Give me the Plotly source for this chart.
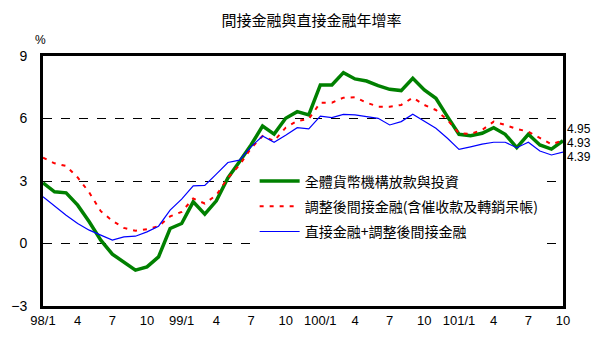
import plotly.graph_objects as go

months = []
for yr in [98, 99, 100, 101]:
    for m in range(1, 13):
        if yr == 101 and m > 10:
            break
        months.append(f"{yr}/{m}")

green = [2.91, 2.48, 2.43, 1.84, 1.04, 0.16, -0.51, -0.88, -1.28, -1.12, -0.64,
         0.72, 0.96, 2.0, 1.41, 2.05, 3.15, 3.92, 4.73, 5.64, 5.25, 6.01, 6.33,
         6.17, 7.61, 7.61, 8.2, 7.9, 7.8, 7.58, 7.4, 7.34, 7.93, 7.37,
         6.97, 6.09, 5.24, 5.17, 5.29, 5.56, 5.24, 4.6, 5.24, 4.73, 4.53, 4.93]
red = [4.12, 3.85, 3.72, 3.17, 2.45, 1.55, 1.09, 0.75, 0.61, 0.69, 0.83,
       1.3, 1.52, 2.16, 1.92, 2.32, 3.15, 3.76, 4.57, 5.16, 4.92, 5.56, 5.88,
       5.98, 6.76, 6.76, 7.0, 7.02, 6.76, 6.57, 6.57, 6.65, 7.0, 6.65,
       6.41, 5.93, 5.29, 5.26, 5.45, 5.85, 5.69, 5.5, 5.37, 5.08, 4.76, 4.95]
blue = [2.24, 1.79, 1.36, 0.96, 0.64, 0.4, 0.16, 0.32, 0.35, 0.56, 0.83,
        1.6, 2.13, 2.77, 2.79, 3.33, 3.89, 4.0, 4.64, 5.16, 4.86, 5.2, 5.56,
        5.5, 6.11, 6.04, 6.2, 6.17, 6.09, 6.01, 5.69, 5.85, 6.2, 5.87,
        5.53, 5.05, 4.52, 4.64, 4.77, 4.86, 4.86, 4.6, 4.86, 4.44, 4.25, 4.39]

names = ["全體貨幣機構放款與投資",
         "調整後間接金融(含催收款及轉銷呆帳)",
         "直接金融+調整後間接金融"]
end_labels = ["4.93", "4.95", "4.39"]
yticks = [-3, 0, 3, 6, 9]

x = list(range(len(months)))
tickvals = [i for i in x if (i % 3) == 0]
ticktext = [months[i] if months[i].endswith("/1") else months[i].split("/")[1] for i in tickvals]

CJK = "Noto Sans CJK TC"
NUM = "Liberation Sans Narrow, Liberation Sans, Arial"

fig = go.Figure()
fig.add_trace(go.Scatter(x=x, y=green, name=names[0], mode="lines", legendgroup="a",
                         line=dict(color="#008000", width=3.5)))
fig.add_trace(go.Scatter(x=x, y=red, name=names[1], mode="lines", legendgroup="b",
                         line=dict(color="#ff0000", width=2, dash="4px,6px")))
fig.add_trace(go.Scatter(x=x, y=blue, name=names[2], mode="lines", legendgroup="c",
                         line=dict(color="#0000ff", width=1.2)))

fig.update_layout(
    width=605, height=352,
    margin=dict(l=43, r=42, t=56, b=46),
    paper_bgcolor="white", plot_bgcolor="white",
    showlegend=True,
    title=dict(text="間接金融與直接金融年增率", x=0.515, xanchor="center", y=0.94, yanchor="middle",
               font=dict(family=CJK, size=15, color="black")),
    legend=dict(x=0.407, y=0.562, xanchor="left", yanchor="top", bgcolor="white",
                font=dict(family=CJK, size=14, color="black"),
                tracegroupgap=4, itemwidth=40),
    xaxis=dict(range=[0, 45], tickvals=tickvals, ticktext=ticktext, ticks="",
               showline=True, linecolor="black", linewidth=3, mirror=True,
               showgrid=False, zeroline=False,
               tickfont=dict(family=NUM, size=13, color="black")),
    xaxis2=dict(range=[0, 45], overlaying="x", anchor="free", position=0.25, side="bottom",
                tickvals=tickvals, ticks="inside", ticklen=4, tickcolor="black",
                showticklabels=False, showline=True, linecolor="black", linewidth=1,
                showgrid=False, zeroline=False),
    yaxis=dict(range=[-3, 9], tickvals=yticks, ticks="", showline=True, linecolor="black",
               linewidth=3, mirror=True, showgrid=True, gridcolor="black", griddash="dash",
               gridwidth=1, zeroline=False, ticklabelstandoff=10,
               tickfont=dict(family=NUM, size=14, color="black")),
)

fig.add_annotation(text="%", xref="paper", yref="paper", x=-0.005, y=1.065, showarrow=False,
                   xanchor="center", yanchor="middle", font=dict(family=NUM, size=12, color="black"))

shifts = [-2.2, 10.9, -4.5]
vals = [green[-1], red[-1], blue[-1]]
for lab, v, s in zip(end_labels, vals, shifts):
    fig.add_annotation(text=lab, xref="paper", yref="y", x=1, y=v, xanchor="left", yanchor="middle",
                       xshift=3, yshift=s, showarrow=False, borderpad=0,
                       font=dict(family=NUM, size=12, color="black"))

fig.write_html("out.html")
